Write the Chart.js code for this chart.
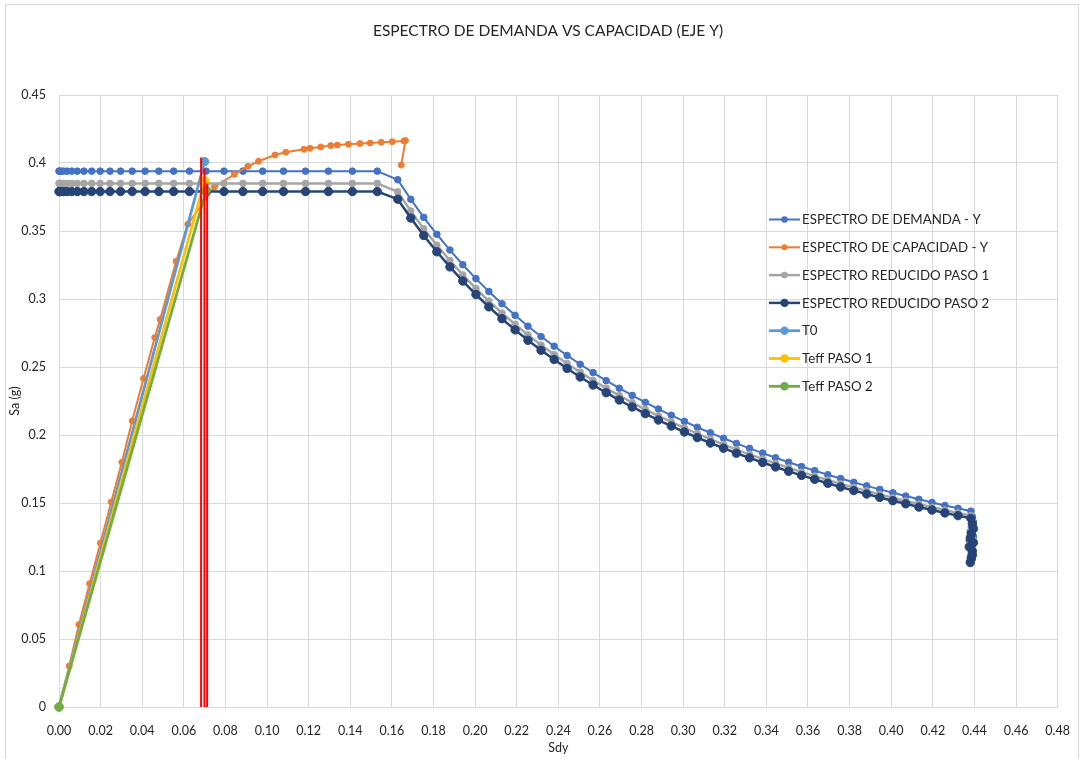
<!DOCTYPE html>
<html>
<head>
<meta charset="utf-8">
<script src="https://cdn.jsdelivr.net/npm/chart.js@4.4.1/dist/chart.umd.min.js"></script>
<style>
    body { margin: 0; background: #ffffff; }
    #wrap { position: absolute; left: 0; top: 0; width: 1086px; height: 759px; }
    #frame { position: absolute; left: 5px; top: 4px; width: 1074px; height: 760px; border: 1px solid #d9d9d9; box-sizing: border-box; }
    canvas { position: absolute; left: 0; top: 0; }
</style>
</head>
<body>
<div id="wrap">
    <div id="frame"></div>
    <canvas id="espectroChart" width="1086" height="759"></canvas>
</div>
<script>
// Sd (m) comun para el espectro de demanda y los espectros reducidos
const sdDemanda = [
    0, 0.00024, 0.00098, 0.0022, 0.0039, 0.0061, 0.0088, 0.0120, 0.0157, 0.0198,
    0.0245, 0.0296, 0.0352, 0.0414, 0.0480, 0.0551, 0.0627, 0.0707, 0.0793, 0.0884,
    0.0979, 0.1079, 0.1185, 0.1295, 0.1410, 0.1530,
    0.1628, 0.1691, 0.1753, 0.1816, 0.1879, 0.1941, 0.2004, 0.2066, 0.2129, 0.2192,
    0.2254, 0.2317, 0.2380, 0.2442, 0.2505, 0.2567, 0.2630, 0.2693, 0.2755, 0.2818,
    0.2881, 0.2943, 0.3006, 0.3068, 0.3131, 0.3194, 0.3256, 0.3319, 0.3382, 0.3444,
    0.3507, 0.3569, 0.3632, 0.3695, 0.3757, 0.3820, 0.3882, 0.3945, 0.4008, 0.4070,
    0.4133, 0.4196, 0.4258, 0.4321, 0.4383,
    0.4390, 0.4395, 0.4385, 0.4380, 0.4395, 0.4375, 0.4390, 0.4390, 0.4385, 0.4380
];
const saDemanda = [
    0.394, 0.394, 0.394, 0.394, 0.394, 0.394, 0.394, 0.394, 0.394, 0.394,
    0.394, 0.394, 0.394, 0.394, 0.394, 0.394, 0.394, 0.394, 0.394, 0.394,
    0.394, 0.394, 0.394, 0.394, 0.394, 0.394,
    0.3877, 0.3733, 0.3600, 0.3476, 0.3360, 0.3252, 0.3150, 0.3055, 0.2965, 0.2880,
    0.2800, 0.2724, 0.2653, 0.2585, 0.2520, 0.2459, 0.2400, 0.2344, 0.2291, 0.2240,
    0.2191, 0.2145, 0.2100, 0.2057, 0.2016, 0.1976, 0.1938, 0.1902, 0.1867, 0.1833,
    0.1800, 0.1768, 0.1738, 0.1708, 0.1680, 0.1652, 0.1626, 0.1600, 0.1575, 0.1551,
    0.1527, 0.1504, 0.1482, 0.1461, 0.1440,
    0.1400, 0.1361, 0.1324, 0.1289, 0.1254, 0.1222, 0.1190, 0.1160, 0.1131, 0.1103
];
const saPaso1 = [
    0.385, 0.385, 0.385, 0.385, 0.385, 0.385, 0.385, 0.385, 0.385, 0.385,
    0.385, 0.385, 0.385, 0.385, 0.385, 0.385, 0.385, 0.385, 0.385, 0.385,
    0.385, 0.385, 0.385, 0.385, 0.385, 0.385,
    0.3788, 0.3647, 0.3517, 0.3396, 0.3283, 0.3177, 0.3078, 0.2985, 0.2897, 0.2814,
    0.2736, 0.2661, 0.2592, 0.2526, 0.2462, 0.2402, 0.2345, 0.2290, 0.2238, 0.2188,
    0.2141, 0.2096, 0.2052, 0.2010, 0.1970, 0.1931, 0.1893, 0.1858, 0.1824, 0.1791,
    0.1759, 0.1727, 0.1698, 0.1669, 0.1641, 0.1614, 0.1589, 0.1563, 0.1539, 0.1515,
    0.1492, 0.1469, 0.1448, 0.1427, 0.1407,
    0.1368, 0.1330, 0.1294, 0.1259, 0.1225, 0.1194, 0.1163, 0.1133, 0.1105, 0.1078
];
const saPaso2 = [
    0.379, 0.379, 0.379, 0.379, 0.379, 0.379, 0.379, 0.379, 0.379, 0.379,
    0.379, 0.379, 0.379, 0.379, 0.379, 0.379, 0.379, 0.379, 0.379, 0.379,
    0.379, 0.379, 0.379, 0.379, 0.379, 0.379,
    0.3734, 0.3595, 0.3467, 0.3347, 0.3236, 0.3132, 0.3033, 0.2942, 0.2855, 0.2773,
    0.2696, 0.2623, 0.2555, 0.2489, 0.2427, 0.2368, 0.2311, 0.2257, 0.2206, 0.2157,
    0.2110, 0.2066, 0.2022, 0.1981, 0.1941, 0.1903, 0.1866, 0.1832, 0.1798, 0.1765,
    0.1733, 0.1703, 0.1674, 0.1645, 0.1618, 0.1591, 0.1566, 0.1541, 0.1517, 0.1494,
    0.1470, 0.1448, 0.1427, 0.1407, 0.1387,
    0.1348, 0.1311, 0.1275, 0.1241, 0.1208, 0.1177, 0.1146, 0.1117, 0.1089, 0.1062
];

// Curva de capacidad
const sdCapacidad = [
    0, 0.0049, 0.0096, 0.0147, 0.0199, 0.0251, 0.0302, 0.0352, 0.0406, 0.0460,
    0.0486, 0.0563, 0.0619, 0.0747, 0.0843, 0.0908, 0.0959, 0.1038, 0.1090, 0.1178,
    0.1206, 0.1258, 0.1306, 0.1338, 0.1391, 0.1446, 0.1495, 0.1549, 0.1602, 0.1658,
    0.1665, 0.1645
];
const saCapacidad = [
    0, 0.0301, 0.0606, 0.0907, 0.1206, 0.1507, 0.1800, 0.2105, 0.2415, 0.2716,
    0.2849, 0.3277, 0.3550, 0.3824, 0.3917, 0.3976, 0.4013, 0.4059, 0.4079, 0.4101,
    0.4108, 0.4118, 0.4128, 0.4132, 0.4138, 0.4143, 0.4147, 0.4152, 0.4157, 0.4162,
    0.4165, 0.3985
];

// Rectas de periodo
const sdT0 = [0, 0.0700];
const saT0 = [0, 0.401];
const sdTeff1 = [0, 0.0700];
const saTeff1 = [0, 0.387];
const sdTeff2 = [0, 0.0708];
const saTeff2 = [0, 0.380];

// Lineas verticales rojas (punto de desempeño)
const sdLineas = [0.0683, 0.0699, 0.0712];
const saLineas = [0.404, 0.396, 0.385];

// Ejes
const xTicks = { min: 0, max: 0.48, step: 0.02 };
const yTicks = { min: 0, max: 0.45, step: 0.05 };

function toPoints(xs, ys) {
    return xs.map((x, i) => ({ x: x, y: ys[i] }));
}

function serie(label, xs, ys, color, radius, width, order) {
    return {
        label: label,
        data: toPoints(xs, ys),
        showLine: true,
        borderColor: color,
        backgroundColor: color,
        pointBackgroundColor: color,
        pointBorderColor: color,
        pointRadius: radius,
        pointHoverRadius: radius,
        pointBorderWidth: 1,
        borderWidth: width,
        tension: 0,
        clip: false,
        order: order
    };
}

const datasets = [
    serie('ESPECTRO DE DEMANDA - Y', sdDemanda, saDemanda, '#4472C4', 3.3, 2, 20),
    serie('ESPECTRO DE CAPACIDAD - Y', sdCapacidad, saCapacidad, '#ED7D31', 3, 2, 19),
    serie('ESPECTRO REDUCIDO PASO 1', sdDemanda, saPaso1, '#A5A5A5', 3.3, 2.5, 18),
    serie('ESPECTRO REDUCIDO PASO 2', sdDemanda, saPaso2, '#264478', 4.2, 2.5, 17),
    serie('T0', sdT0, saT0, '#5B9BD5', 4.2, 2.8, 16),
    serie('Teff PASO 1', sdTeff1, saTeff1, '#FFC000', 4.2, 2.8, 15),
    serie('Teff PASO 2', sdTeff2, saTeff2, '#70AD47', 4.2, 2.8, 14)
];

sdLineas.forEach((sd, i) => {
    const s = serie('', [sd, sd], [0, saLineas[i]], '#FF0000', 0, 2, 3 - i);
    s.enLeyenda = false;
    datasets.push(s);
});

const fontFamily = 'Lato, "Open Sans", sans-serif';

// Titulo y leyenda dibujados a mano, como en Excel
const excelDecor = {
    id: 'excelDecor',
    afterDraw(chart) {
        const ctx = chart.ctx;
        ctx.save();
        ctx.fillStyle = '#262626';
        ctx.font = '15.5px ' + fontFamily;
        ctx.textAlign = 'center';
        ctx.textBaseline = 'middle';
        ctx.fillText('ESPECTRO DE DEMANDA VS CAPACIDAD (EJE Y)', 548, 31);

        let y = 219.5;
        ctx.font = '13.3px ' + fontFamily;
        ctx.textAlign = 'left';
        chart.data.datasets.forEach(ds => {
            if (ds.enLeyenda === false) return;
            ctx.strokeStyle = ds.borderColor;
            ctx.lineWidth = ds.borderWidth;
            ctx.beginPath();
            ctx.moveTo(769, y);
            ctx.lineTo(800, y);
            ctx.stroke();
            ctx.fillStyle = ds.pointBackgroundColor;
            ctx.beginPath();
            ctx.arc(784.5, y, ds.pointRadius, 0, Math.PI * 2);
            ctx.fill();
            ctx.fillStyle = '#262626';
            ctx.fillText(ds.label, 802, y + 0.5);
            y += 27.8;
        });
        ctx.restore();
    }
};

function initEspectroChart() {
    const ctx = document.getElementById('espectroChart').getContext('2d');

    new Chart(ctx, {
        type: 'scatter',
        data: { datasets: datasets },
        options: {
            responsive: false,
            animation: false,
            devicePixelRatio: 1,
            layout: {
                padding: { top: 95, right: 26, bottom: 0, left: 0 }
            },
            plugins: {
                legend: { display: false },
                title: { display: false },
                tooltip: { enabled: false }
            },
            scales: {
                x: {
                    type: 'linear',
                    min: xTicks.min,
                    max: xTicks.max,
                    afterFit: function(scale) { scale.height = 52; },
                    ticks: {
                        stepSize: xTicks.step,
                        padding: 16,
                        maxRotation: 0,
                        autoSkip: false,
                        color: '#262626',
                        font: { family: fontFamily, size: 12.5 },
                        callback: function(value) {
                            return value.toFixed(2);
                        }
                    },
                    grid: {
                        color: '#d9d9d9',
                        drawTicks: false
                    },
                    border: { color: '#d9d9d9' },
                    title: {
                        display: true,
                        text: 'Sdy',
                        color: '#262626',
                        font: { family: fontFamily, size: 12.5 },
                        padding: { top: 0, bottom: 4 }
                    }
                },
                y: {
                    type: 'linear',
                    min: yTicks.min,
                    max: yTicks.max,
                    afterFit: function(scale) { scale.width = 59; },
                    ticks: {
                        stepSize: yTicks.step,
                        padding: 13,
                        color: '#262626',
                        font: { family: fontFamily, size: 12.5 },
                        callback: function(value) {
                            return String(parseFloat(value.toFixed(2)));
                        }
                    },
                    grid: {
                        color: '#d9d9d9',
                        drawTicks: false
                    },
                    border: { color: '#d9d9d9' },
                    title: {
                        display: true,
                        text: 'Sa (g)',
                        color: '#262626',
                        font: { family: fontFamily, size: 12.5 },
                        padding: { top: 7, bottom: 0 }
                    }
                }
            }
        },
        plugins: [excelDecor]
    });
}

document.addEventListener('DOMContentLoaded', function() {
    initEspectroChart();
});
</script>
</body>
</html>
